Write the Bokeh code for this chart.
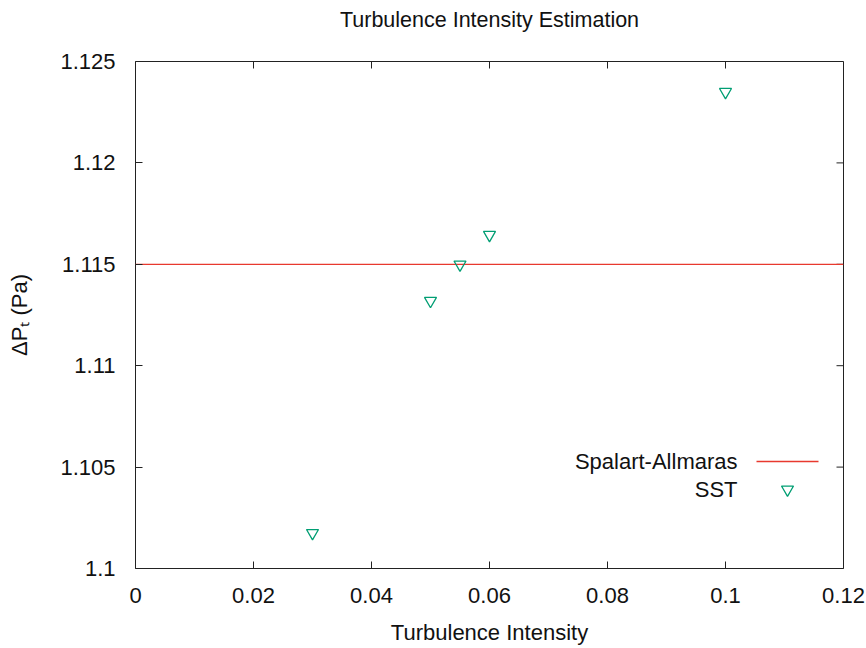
from bokeh.plotting import figure
from bokeh.models import Range1d, FixedTicker, Label
from bokeh.embed import file_html
from bokeh.resources import INLINE

# ---- data ----
intensity = [0.03, 0.05, 0.055, 0.06, 0.1]
sst_dp = [1.10175, 1.1132, 1.11499, 1.11645, 1.1235]
sa_dp = 1.115
x_ticks = [0, 0.02, 0.04, 0.06, 0.08, 0.1, 0.12]
x_tick_labels = ["0", "0.02", "0.04", "0.06", "0.08", "0.1", "0.12"]
y_ticks = [1.1, 1.105, 1.11, 1.115, 1.12, 1.125]
y_tick_labels = ["1.1", "1.105", "1.11", "1.115", "1.12", "1.125"]
series_names = ["Spalart-Allmaras", "SST"]
title_text = "Turbulence Intensity Estimation"

FONT = "Liberation Sans"
FS = "22px"
RED = "#e8392e"
GREEN = "#009e73"
INK = "#111111"
LEFT, TOP = 135, 61
FRAME_W, FRAME_H = 708, 507
TICK = 7

p = figure(frame_width=FRAME_W, frame_height=FRAME_H,
           x_range=Range1d(x_ticks[0], x_ticks[-1]),
           y_range=Range1d(y_ticks[0], y_ticks[-1]),
           min_border_left=LEFT, min_border_right=866 - LEFT - FRAME_W,
           min_border_top=TOP, min_border_bottom=648 - TOP - FRAME_H,
           output_backend="svg", toolbar_location=None,
           title=title_text + "\n")

p.title.text_font = FONT
p.title.text_font_size = "21.5px"
p.title.text_font_style = "normal"
p.title.text_color = INK
p.title.align = "center"
p.title.vertical_align = "top"
p.title.standoff = 8
p.title.offset = -11

p.grid.visible = False
p.outline_line_color = "#222222"
p.outline_line_width = 1

for ax, ticks, labels in ((p.xaxis[0], x_ticks, x_tick_labels),
                          (p.yaxis[0], y_ticks, y_tick_labels)):
    ax.ticker = FixedTicker(ticks=ticks)
    ax.major_label_overrides = {t: l for t, l in zip(ticks, labels)}
    ax.major_tick_in = TICK
    ax.major_tick_out = 0
    ax.major_tick_line_color = "#222222"
    ax.minor_tick_line_color = None
    ax.axis_line_color = None
    ax.major_label_text_font = FONT
    ax.major_label_text_font_size = FS
    ax.major_label_text_color = INK
    ax.axis_label_text_font = FONT
    ax.axis_label_text_font_size = FS
    ax.axis_label_text_font_style = "normal"
    ax.axis_label_text_color = INK

p.xaxis[0].axis_label = "Turbulence Intensity"
p.xaxis[0].major_label_standoff = 19
p.xaxis[0].axis_label_standoff = 14
p.yaxis[0].axis_label = "ΔPₜ (Pa)"
p.yaxis[0].major_label_standoff = 20
p.yaxis[0].axis_label_standoff = 25

xmin, xmax = x_ticks[0], x_ticks[-1]
ymin, ymax = y_ticks[0], y_ticks[-1]

def px2x(sx):  # canvas pixel -> data x (for key decoration only)
    return xmin + (sx - LEFT) / FRAME_W * (xmax - xmin)

def px2y(sy):
    return ymax - (sy - TOP) / FRAME_H * (ymax - ymin)

# mirrored inward ticks on the top and right frame edges
dy = TICK * (ymax - ymin) / FRAME_H
dx = TICK * (xmax - xmin) / FRAME_W
p.segment(x0=x_ticks, y0=[ymax] * len(x_ticks), x1=x_ticks, y1=[ymax - dy] * len(x_ticks),
          line_color="#222222", line_width=1)
p.segment(x0=[xmax] * len(y_ticks), y0=y_ticks, x1=[xmax - dx] * len(y_ticks), y1=y_ticks,
          line_color="#222222", line_width=1)

# data
p.line([xmin, xmax], [sa_dp, sa_dp], line_color=RED, line_width=1.3)
p.scatter(intensity, sst_dp, marker="inverted_triangle", size=12,
          fill_color=None, line_color=GREEN, line_width=1.3)

# gnuplot-style key: text right-aligned, sample to its right
p.line([px2x(756), px2x(818)], [px2y(461), px2y(461)], line_color=RED, line_width=1.3)
p.scatter([px2x(787)], [px2y(489)], marker="inverted_triangle", size=12,
          fill_color=None, line_color=GREEN, line_width=1.3)
for name, sy in zip(series_names, [461, 489]):
    p.add_layout(Label(x=737 - LEFT, y=TOP + FRAME_H - sy, x_units="screen", y_units="screen",
                       text=name, text_align="right", text_baseline="middle",
                       text_font=FONT, text_font_size=FS, text_color=INK))

open("out.html", "w").write(file_html(p, INLINE))
